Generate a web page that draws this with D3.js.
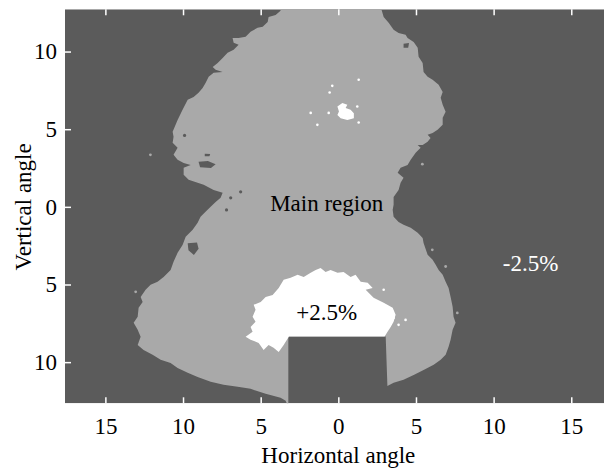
<!DOCTYPE html>
<html><head><meta charset="utf-8"><script src="https://cdn.jsdelivr.net/npm/d3@7"></script></head>
<body style="margin:0">
<svg id="chart" width="604" height="470" font-family="serif"></svg>
<script>
// Axis ticks (signed angle) and the printed labels (magnitudes only)
const xTicks = [-15, -10, -5, 0, 5, 10, 15];
const xTickLabels = ["15", "10", "5", "0", "5", "10", "15"];
const yTicks = [-10, -5, 0, 5, 10];
const yTickLabels = ["10", "5", "0", "5", "10"];

// Outline of the main region (horizontal angle, vertical angle), in degrees
const mainRegion = [
  [-3.72, 12.9], [2.72, 12.9], [2.92, 12.23], [3.24, 11.85], [3.56, 11.40], [3.88, 11.20],
  [4.33, 11.08], [4.46, 10.88], [4.85, 10.62], [5.11, 10.24], [5.17, 9.66], [5.43, 9.27],
  [5.49, 8.69], [5.75, 8.37], [6.07, 8.18], [6.46, 7.86], [6.72, 7.40], [6.59, 7.02],
  [6.72, 6.57], [6.91, 6.12], [6.72, 5.73], [6.72, 5.28], [6.39, 4.96], [6.07, 4.76],
  [5.75, 4.64], [5.94, 4.44], [5.75, 4.19], [5.43, 3.99], [5.11, 3.99], [5.30, 3.80],
  [4.98, 3.48], [4.66, 3.03], [4.46, 2.70], [4.01, 2.51], [3.82, 2.19], [4.20, 1.87],
  [4.01, 1.55], [3.88, 1.09], [3.56, 0.64], [3.56, 0.13], [3.50, -0.19], [3.56, -0.64],
  [3.88, -0.97], [4.20, -1.16], [4.66, -1.35], [5.11, -1.67], [5.43, -2.00], [5.49, -2.32],
  [5.75, -3.09], [6.07, -3.41], [6.27, -3.73], [6.46, -4.06], [6.72, -4.38], [6.91, -4.83],
  [7.10, -5.22], [7.23, -5.80], [7.36, -6.44], [7.42, -7.08], [7.55, -7.47], [7.36, -7.92],
  [7.23, -8.56], [7.10, -9.01], [6.91, -9.53], [6.59, -9.85], [6.14, -10.17], [5.49, -10.50],
  [4.85, -10.82], [4.20, -11.14], [3.56, -11.33], [3.16, -11.53], [3.05, -8.35], [-3.22, -8.35],
  [-3.22, -12.9], [-3.39, -12.49], [-3.72, -12.30], [-4.68, -12.04], [-5.65, -11.72], [-6.48, -11.59],
  [-7.39, -11.46], [-8.22, -11.27], [-9.06, -10.95], [-9.70, -10.69], [-10.35, -10.37], [-10.80, -10.05],
  [-11.44, -9.85], [-11.96, -9.53], [-12.54, -9.21], [-12.92, -8.89], [-12.73, -8.37], [-12.92, -7.92],
  [-13.18, -7.47], [-12.92, -7.08], [-12.86, -6.50], [-12.60, -6.12], [-12.73, -5.80], [-12.41, -5.34],
  [-12.09, -5.02], [-11.64, -4.83], [-11.25, -4.51], [-10.80, -4.06], [-10.61, -3.54], [-10.35, -2.96],
  [-10.03, -2.45], [-9.83, -1.93], [-9.38, -1.48], [-9.06, -1.03], [-8.87, -0.64], [-8.55, -0.32],
  [-8.22, 0.00], [-7.90, 0.32], [-7.58, 0.58], [-7.45, 0.90], [-8.03, 1.09], [-8.67, 1.42],
  [-9.06, 1.55], [-9.64, 1.74], [-9.96, 2.06], [-9.96, 2.51], [-9.51, 2.70], [-9.96, 2.83],
  [-10.35, 3.03], [-10.61, 3.35], [-10.35, 3.80], [-10.67, 4.12], [-10.61, 4.51], [-10.67, 4.83],
  [-10.35, 5.60], [-10.03, 6.25], [-9.70, 6.89], [-9.32, 7.08], [-9.00, 7.34], [-8.74, 7.66],
  [-8.55, 7.98], [-8.35, 8.37], [-8.03, 8.63], [-7.45, 8.69], [-7.90, 8.82], [-8.09, 9.01],
  [-7.77, 9.27], [-7.45, 9.59], [-7.13, 9.92], [-6.74, 10.11], [-6.42, 10.43], [-6.74, 10.56],
  [-6.81, 10.88], [-6.42, 10.88], [-5.97, 10.95], [-5.65, 11.27], [-5.20, 11.53], [-4.87, 11.59],
  [-4.55, 11.91], [-4.49, 12.23], [-4.04, 12.36], [-3.72, 12.62]
];

// Outline of the +2.5% region
const plusRegion = [
  [-3.18, -8.35], [-3.52, -8.89], [-3.84, -9.34], [-4.17, -9.08], [-4.49, -8.89], [-4.81, -9.21],
  [-5.13, -8.76], [-5.65, -8.56], [-5.97, -8.37], [-5.52, -8.05], [-5.65, -7.73], [-5.33, -7.40],
  [-5.52, -7.08], [-5.33, -6.63], [-5.45, -6.31], [-5.00, -6.12], [-4.68, -5.80], [-4.23, -5.67],
  [-3.84, -5.22], [-3.52, -4.70], [-3.07, -4.57], [-2.62, -4.38], [-2.23, -4.51], [-1.78, -4.25],
  [-1.46, -4.06], [-1.14, -3.93], [-0.82, -4.19], [-0.50, -4.06], [-0.05, -4.25], [0.34, -4.19],
  [0.79, -4.51], [1.11, -4.38], [1.44, -4.83], [1.89, -4.89], [2.21, -5.22], [1.76, -5.34],
  [2.27, -5.86], [2.92, -6.18], [3.50, -6.50], [3.69, -6.95], [3.56, -7.40], [3.37, -7.73],
  [3.17, -8.05], [2.98, -8.35]
];

// Small +2.5% patch in the upper lobe
const plusPatch = [
  [-0.06, 6.46], [0.26, 6.68], [0.58, 6.57], [0.47, 6.36], [0.79, 6.25], [1.00, 6.03],
  [1.00, 5.71], [0.58, 5.60], [0.15, 5.71], [-0.06, 5.92], [0.04, 6.14]
];

// -2.5% holes inside the main region
const minusHoles = [
  [[-9.0, 2.9], [-8.4, 2.95], [-7.9, 2.75], [-8.2, 2.5], [-8.9, 2.55]],
  [[-8.6, 3.42], [-8.25, 3.4], [-8.3, 3.25], [-8.6, 3.25]],
  [[-9.7, -2.35], [-9.1, -2.3], [-9.0, -2.7], [-9.3, -3.1], [-9.65, -2.8]],
  [[4.2, 10.5], [4.55, 10.55], [4.5, 10.25], [4.2, 10.25]]
];
const minusSpecks = [[-6.93, 0.58], [-6.29, 0.97], [-7.2, -0.2], [-9.9, 4.6]];

// Isolated main-region specks and isolated +2.5% specks
const mainSpecks = [[-13.05, -5.47], [-12.1, 3.35], [6.05, -2.77], [6.91, -3.84], [7.66, -6.83], [5.41, 2.75]];
const plusSpecks = [
  [1.22, 6.46], [1.31, 5.43], [-0.62, 6.05], [-0.39, 7.79], [1.31, 8.18], [-0.56, 7.36],
  [-1.35, 5.28], [-1.78, 6.05], [2.92, -5.34], [3.56, -7.15], [4.33, -7.28], [3.88, -7.6]
];

// Region labels (anchored at the text baseline)
const labels = [
  { text: "Main region", x: -0.75, y: -0.24, fill: "#000000" },
  { text: "+2.5%", x: -0.75, y: -7.27, fill: "#000000" },
  { text: "-2.5%", x: 12.38, y: -4.1, fill: "#ffffff" }
];

const colDark = "#5b5b5b", colLight = "#a9a9a9", colWhite = "#ffffff";
const plotLeft = 65, plotTop = 9.3, plotBottom = 403.3;
const unit = 15.53; // pixels per degree on both axes
const fontSize = 23;
const face = "serif";

const x = d3.scaleLinear().domain([-17.6, 17.6]).range([plotLeft, plotLeft + 35.2 * unit]);
const y = d3.scaleLinear().domain([-12.65, 12.75]).range([plotBottom, plotBottom - 25.4 * unit]);

const svg = d3.select("#chart");
const plotW = x.range()[1] - plotLeft, plotH = plotBottom - plotTop;

svg.append("defs").append("clipPath").attr("id", "plot-clip")
  .append("rect").attr("x", plotLeft).attr("y", plotTop).attr("width", plotW).attr("height", plotH);

const plot = svg.append("g").attr("clip-path", "url(#plot-clip)");
plot.append("rect").attr("x", plotLeft).attr("y", plotTop).attr("width", plotW).attr("height", plotH)
  .attr("fill", colDark);

const line = d3.line().x(d => x(d[0])).y(d => y(d[1])).curve(d3.curveLinearClosed);

plot.append("path").attr("d", line(mainRegion)).attr("fill", colLight);
plot.selectAll("path.hole").data(minusHoles).join("path").attr("class", "hole")
  .attr("d", line).attr("fill", colDark);
plot.selectAll("circle.mspeck").data(minusSpecks).join("circle").attr("class", "mspeck")
  .attr("cx", d => x(d[0])).attr("cy", d => y(d[1])).attr("r", 1.6).attr("fill", colDark);
plot.selectAll("circle.lspeck").data(mainSpecks).join("circle").attr("class", "lspeck")
  .attr("cx", d => x(d[0])).attr("cy", d => y(d[1])).attr("r", 1.4).attr("fill", colLight);
plot.append("path").attr("d", line(plusRegion)).attr("fill", colWhite);
plot.append("path").attr("d", line(plusPatch)).attr("fill", colWhite);
plot.selectAll("circle.pspeck").data(plusSpecks).join("circle").attr("class", "pspeck")
  .attr("cx", d => x(d[0])).attr("cy", d => y(d[1])).attr("r", 1.3).attr("fill", colWhite);

svg.selectAll("text.region").data(labels).join("text").attr("class", "region")
  .attr("x", d => x(d.x)).attr("y", d => y(d.y))
  .attr("text-anchor", "middle").attr("font-family", face).attr("font-size", fontSize)
  .attr("fill", d => d.fill)
  .text(d => d.text);

// Axes: white inward ticks, magnitude labels outside the frame
const tickLen = 6;

const xAxis = svg.append("g").attr("transform", `translate(0,${plotBottom})`)
  .call(d3.axisBottom(x).tickValues(xTicks).tickSizeInner(-tickLen).tickSizeOuter(0).tickPadding(14)
    .tickFormat((d, i) => xTickLabels[i]));
const xAxisTop = svg.append("g").attr("transform", `translate(0,${plotTop})`)
  .call(d3.axisTop(x).tickValues(xTicks).tickSizeInner(-tickLen).tickSizeOuter(0).tickFormat(() => ""));
const yAxis = svg.append("g").attr("transform", `translate(${plotLeft},0)`)
  .call(d3.axisLeft(y).tickValues(yTicks).tickSizeInner(-tickLen).tickSizeOuter(0).tickPadding(8)
    .tickFormat((d, i) => yTickLabels[i]));

[xAxis, xAxisTop, yAxis].forEach(g => {
  g.attr("font-family", face).attr("font-size", fontSize);
  g.select(".domain").remove();
  g.selectAll(".tick line").attr("stroke", "#ffffff").attr("stroke-width", 1.5);
  g.selectAll("text").attr("font-family", face).attr("font-size", fontSize).attr("fill", "#000000");
});

svg.append("text").attr("x", x(0)).attr("y", 463).attr("text-anchor", "middle")
  .attr("font-family", face).attr("font-size", fontSize).attr("fill", "#000").text("Horizontal angle");
svg.append("text").attr("transform", `translate(31,${y(0)}) rotate(-90)`).attr("text-anchor", "middle")
  .attr("font-family", face).attr("font-size", fontSize).attr("fill", "#000").text("Vertical angle");
</script>
</body>
</html>
